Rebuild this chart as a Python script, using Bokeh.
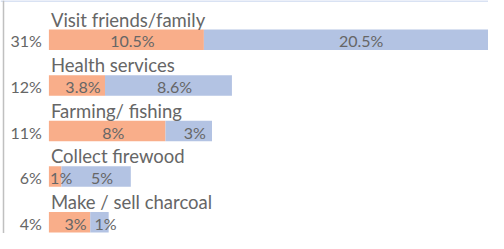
from bokeh.plotting import figure
from bokeh.models import ColumnDataSource, Range1d, Span
from bokeh.core.properties import value
from bokeh.embed import file_html
from bokeh.resources import INLINE

categories = ["Visit friends/family", "Health services", "Farming/ fishing",
              "Collect firewood", "Make / sell charcoal"]
totals = ["31%", "12%", "11%", "6%", "4%"]
orange_vals = [10.5, 3.8, 7.9, 0.85, 2.8]
blue_vals = [20.5, 8.6, 3.15, 4.7, 1.25]
orange_labels = ["10.5%", "3.8%", "8%", "1%", "3%"]
blue_labels = ["20.5%", "8.6%", "3%", "5%", "1%"]

ORANGE = "#F9AE8A"
BLUE = "#B3C3E3"
TEXT = "#666666"
FONT = "Lato"

W, H = 488, 233
px_per_unit = 14.76
left_px = 48.4
x0 = -left_px / px_per_unit
x1 = (W - left_px) / px_per_unit
row_px = 45.6
top_center_px = 39.3
y_top = -top_center_px / row_px
y_bot = (H - top_center_px) / row_px
bar_h = 0.45

idx = list(range(len(categories)))
o_end = orange_vals
b_end = [o + b for o, b in zip(orange_vals, blue_vals)]
src = ColumnDataSource(dict(
    y=idx, cat=categories, tot=totals,
    o_left=[0] * len(idx), o_right=o_end, b_right=b_end,
    o_mid=[v / 2 for v in o_end],
    b_mid=[(o + e) / 2 for o, e in zip(o_end, b_end)],
    o_lab=orange_labels, b_lab=blue_labels,
    cat_y=[i - bar_h / 2 for i in idx],
))

p = figure(width=W, height=H, output_backend="svg", toolbar_location=None,
           x_range=Range1d(x0, x1), y_range=Range1d(y_bot, y_top),
           min_border=0, outline_line_color=None)
p.axis.visible = False
p.grid.visible = False
p.background_fill_color = "white"
p.border_fill_color = "white"

p.hbar(y="y", left="o_left", right="o_right", height=bar_h, source=src,
       fill_color=ORANGE, line_color=None)
p.hbar(y="y", left="o_right", right="b_right", height=bar_h, source=src,
       fill_color=BLUE, line_color=None)

common = dict(text_font=value(FONT), text_color=TEXT, source=src)
p.text(x=0, y="cat_y", text="cat", text_align="left", text_baseline="alphabetic",
       x_offset=2, y_offset=-10, text_font_size="18.5px", **common)
p.text(x=0, y="y", text="tot", text_align="right", text_baseline="middle",
       x_offset=-7, y_offset=1, text_font_size="16px", **common)
p.text(x="o_mid", y="y", text="o_lab", text_align="center", text_baseline="middle",
       x_offset=6, y_offset=1, text_font_size="16px", **common)
p.text(x="b_mid", y="y", text="b_lab", text_align="center", text_baseline="middle",
       x_offset=6, y_offset=1, text_font_size="16px", **common)

p.add_layout(Span(location=y_top, dimension="width", line_color="#D9E2F3", line_width=3))
p.add_layout(Span(location=x0 + 3 / px_per_unit, dimension="height",
                  line_color="#C0C0C0", line_width=1.5))

open("out.html", "w").write(file_html(p, INLINE))
